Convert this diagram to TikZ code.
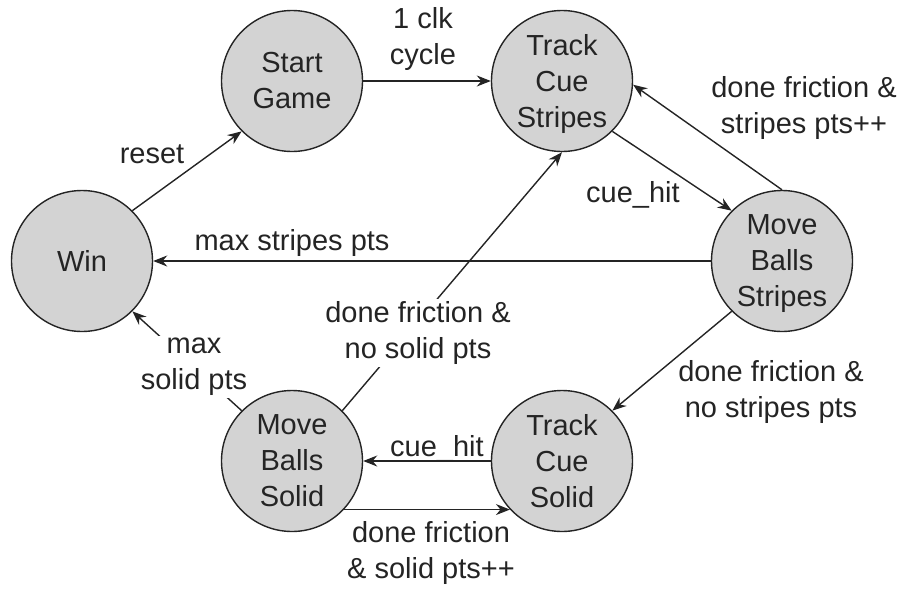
\documentclass[tikz,border=0pt]{standalone}
\usepackage{fontspec}
\setmainfont{Liberation Sans}
\usetikzlibrary{arrows.meta}
\definecolor{ink}{HTML}{242424}
\definecolor{statefill}{HTML}{D3D3D3}
\begin{document}
\begin{tikzpicture}[x=1pt,y=-1pt,
  state/.style={circle,draw=ink,fill=statefill,line width=1.4pt,
    minimum size=141pt,inner sep=0pt,align=center,text=ink,
    font=\fontsize{29}{36}\selectfont},
  trans/.style={draw=ink,line width=1.4pt,-{Stealth[length=14pt,width=11pt]}},
  lbl/.style={align=center,text=ink,font=\fontsize{29}{36}\selectfont,inner sep=2pt},
  cut/.style={lbl,fill=white}]
\useasboundingbox (0,0) rectangle (903,590);

% states (last lines with descenders are smashed so the text stays centred)
\node[state] (start)     at (292,81)  {Start\\Game};
\node[state] (tstripes)  at (562,81)  {Track\\Cue\\\smash{Stripes}};
\node[state] (win)       at (82,261)  {Win};
\node[state] (mbstripes) at (782,261) {Move\\Balls\\\smash{Stripes}};
\node[state] (mbsolid)   at (292,461) {Move\\Balls\\Solid};
\node[state] (tsolid)    at (562,461) {Track\\Cue\\Solid};

% transitions
\draw[trans] (start) -- (tstripes);
\draw[trans] (win.45) -- (start.225);
\draw[trans] (mbstripes) -- (win);
\draw[trans] (tstripes.-45) -- (mbstripes.135);
\draw[trans] (mbstripes.north) -- (tstripes.-3);
\draw[trans] (mbstripes.225) -- (tsolid.45);
\draw[trans] (tsolid) -- (mbsolid);
\draw[trans] (mbsolid.-43) -- (tsolid.-137);
\draw[trans] (mbsolid.45) -- (tstripes.south);
\draw[trans] (mbsolid.135) -- (win.-45);

% transition labels
\node[lbl] (lclk)    at (423,39)  {1 clk\\cycle};
\node[lbl] (lreset)  at (152,154) {reset};
\node[lbl] (lmaxstr) at (292,243) {max stripes pts};
\node[lbl,anchor=base] (lhittop) at (633,202) {cue\_hit};
\node[lbl] (lstrpp)  at (804,108) {done friction \&\\stripes pts++};
\node[cut] (lnosol)  at (418,333) {done friction \&\\no solid pts};
\node[cut] (lmaxsol) at (194,367) {max\\solid pts};
\node[lbl] (lnostr)  at (771,392) {done friction \&\\no stripes pts};
\node[lbl,anchor=base] (lhitbot) at (437,456) {cue\_hit};
\node[lbl] (lsolpp)  at (431,553) {done friction\\\& solid pts++};
\end{tikzpicture}
\end{document}
